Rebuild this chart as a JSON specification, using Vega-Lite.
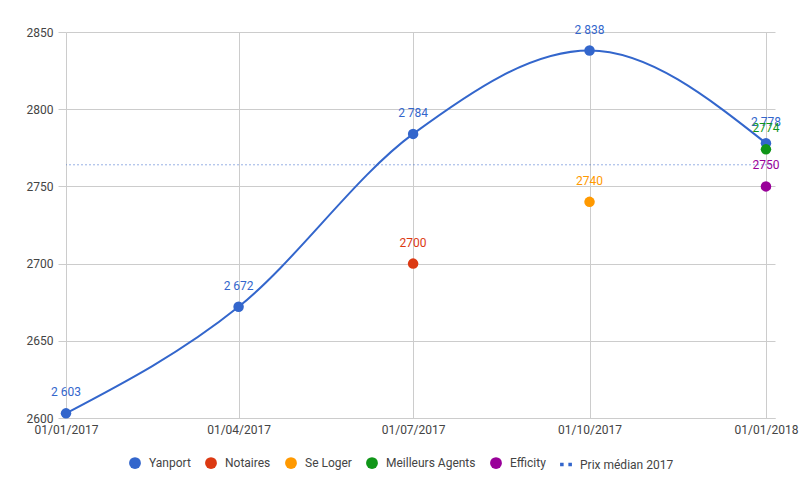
{
  "$schema": "https://vega.github.io/schema/vega-lite/v6.json",
  "width": 709,
  "height": 386,
  "padding": {"left": 66, "top": 32, "right": 25, "bottom": 76},
  "autosize": {"type": "none"},
  "background": "white",
  "config": {
    "font": "Roboto",
    "view": {"stroke": null},
    "axis": {"labelFont": "Roboto", "labelFontSize": 12, "labelColor": "#444", "gridColor": "#ccc", "tickColor": "#ccc", "domainColor": "#ccc"},
    "legend": {"symbolSize": 140, "labelFontSize": 12, "labelColor": "#444", "labelFont": "Roboto", "labelOffset": 7, "columnPadding": 11, "padding": 0}
  },
  "data": {
    "values": [
      {"date": "2017-01-01", "value": 2603, "series": "Yanport", "label": "2 603"},
      {"date": "2017-04-01", "value": 2672, "series": "Yanport", "label": "2 672"},
      {"date": "2017-07-01", "value": 2784, "series": "Yanport", "label": "2 784"},
      {"date": "2017-10-01", "value": 2838, "series": "Yanport", "label": "2 838"},
      {"date": "2018-01-01", "value": 2778, "series": "Yanport", "label": "2 778"},
      {"date": "2017-07-01", "value": 2700, "series": "Notaires", "label": "2700"},
      {"date": "2017-10-01", "value": 2740, "series": "Se Loger", "label": "2740"},
      {"date": "2018-01-01", "value": 2774, "series": "Meilleurs Agents", "label": "2774"},
      {"date": "2018-01-01", "value": 2750, "series": "Efficity", "label": "2750"},
      {"date": "2017-01-01", "value": 2764, "series": "Prix médian 2017", "label": ""}
    ]
  },
  "encoding": {
    "x": {
      "field": "date", "type": "temporal", "title": null,
      "scale": {"type": "utc", "domain": [{"year": 2017, "month": 1, "date": 1, "utc": true}, {"year": 2018, "month": 1, "date": 5, "hours": 17, "utc": true}]},
      "axis": {
        "values": [
          {"year": 2017, "month": 1, "date": 1, "utc": true},
          {"year": 2017, "month": 4, "date": 1, "utc": true},
          {"year": 2017, "month": 7, "date": 1, "utc": true},
          {"year": 2017, "month": 10, "date": 1, "utc": true},
          {"year": 2018, "month": 1, "date": 1, "utc": true}
        ],
        "format": "%d/%m/%Y", "ticks": false, "labelPadding": 6, "labelFlush": false, "labelOverlap": false, "grid": true
      }
    },
    "y": {
      "field": "value", "type": "quantitative", "title": null,
      "scale": {"domain": [2600, 2850], "nice": false, "zero": false},
      "axis": {"values": [2600, 2650, 2700, 2750, 2800, 2850], "format": "d", "domain": false, "tickSize": 8, "labelPadding": 5, "grid": true}
    }
  },
  "layer": [
    {
      "transform": [{"filter": "datum.series === 'Prix médian 2017'"}],
      "mark": {"type": "rule", "color": "#3366cc", "opacity": 0.5, "strokeDash": [2, 2], "strokeWidth": 1},
      "encoding": {"x": null, "y": {"field": "value", "type": "quantitative"}}
    },
    {
      "transform": [{"filter": "datum.series === 'Yanport'"}],
      "mark": {"type": "line", "color": "#3366cc", "strokeWidth": 2, "interpolate": "monotone"}
    },
    {
      "transform": [{"filter": "datum.series !== 'Prix médian 2017'"}],
      "mark": {"type": "point", "filled": true, "opacity": 1, "size": 110},
      "encoding": {
        "color": {
          "field": "series", "type": "nominal",
          "scale": {"domain": ["Yanport", "Notaires", "Se Loger", "Meilleurs Agents", "Efficity", "Prix médian 2017"], "range": ["#3366cc", "#dc3912", "#ff9900", "#109618", "#990099", "#3366cc"]},
          "legend": {"title": null, "orient": "none", "direction": "horizontal", "legendX": 62, "legendY": 424, "symbolSize": 140, "symbolOpacity": 1}
        },
        "shape": {
          "field": "series", "type": "nominal",
          "scale": {"domain": ["Yanport", "Notaires", "Se Loger", "Meilleurs Agents", "Efficity", "Prix médian 2017"], "range": ["circle", "circle", "circle", "circle", "circle", "M-1,-0.3H-0.4V0.3H-1Z M0.4,-0.3H1V0.3H0.4Z"]},
          "legend": {"title": null, "orient": "none", "direction": "horizontal", "legendX": 62, "legendY": 424, "symbolSize": 140}
        }
      }
    },
    {
      "transform": [{"filter": "datum.series !== 'Prix médian 2017'"}],
      "mark": {"type": "text", "fontSize": 12, "font": "Roboto", "dy": -21, "baseline": "middle", "align": "center"},
      "encoding": {
        "text": {"field": "label"},
        "color": {"field": "series", "type": "nominal"}
      }
    }
  ]
}
